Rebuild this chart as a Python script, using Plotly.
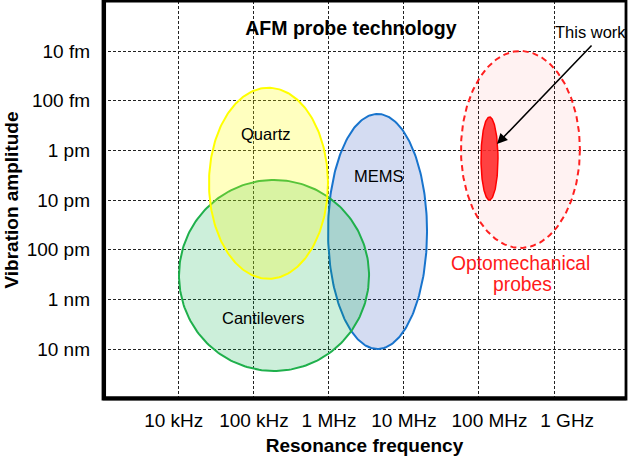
import numpy as np
import plotly.graph_objects as go

# ---- data ----
regions = ["Optomechanical", "MEMS", "Cantilevers", "Quartz", "This work"]
center_freq_hz = [3.57e8, 4.44e6, 1.85e5, 1.56e5, 1.38e8]
center_amp_m = [9.6e-13, 4.3e-11, 3.3e-10, 4.6e-12, 1.46e-12]
half_width_dec = [0.793, 0.66, 1.267, 0.793, 0.113]
half_height_dec = [1.983, 2.366, 1.923, 1.923, 0.836]

x_tick_vals = [1e4, 1e5, 1e6, 1e7, 1e8, 1e9]
x_tick_text = ["10 kHz", "100 kHz", "1 MHz", "10 MHz", "100 MHz", "1 GHz"]
y_tick_vals = [1e-14, 1e-13, 1e-12, 1e-11, 1e-10, 1e-9, 1e-8]
y_tick_text = ["10 fm", "100 fm", "1 pm", "10 pm", "100 pm", "1 nm", "10 nm"]

# style: small horizontal nudges of x tick labels (in spaces; negative = left)
x_label_nudge = [-2, 0, 0, 0, 4, 5]
NB = "\u00a0"
x_tick_disp = [(NB * n + s) if n > 0 else (s + NB * (-n)) for s, n in zip(x_tick_text, x_label_nudge)]

styles = {
    "Optomechanical": dict(fill="rgba(255,0,0,0.05)", line="#ff2020", width=2, dash="6px,4px"),
    "Cantilevers": dict(fill="rgba(0,176,70,0.2)", line="#1fb04c", width=2, dash="solid"),
    "Quartz": dict(fill="rgba(255,255,0,0.25)", line="#ffff00", width=2, dash="solid"),
    "MEMS": dict(fill="rgba(40,80,190,0.2)", line="#1874cd", width=2, dash="solid"),
    "This work": dict(fill="rgba(255,40,40,0.88)", line="#ff0000", width=1.5, dash="solid"),
}

fig = go.Figure()
t = np.linspace(0, 2 * np.pi, 241)
for name, cf, ca, hw, hh in zip(regions, center_freq_hz, center_amp_m, half_width_dec, half_height_dec):
    s = styles[name]
    lx = np.log10(cf) + hw * np.cos(t)
    ly = np.log10(ca) + hh * np.sin(t)
    fig.add_trace(go.Scatter(
        x=10 ** lx, y=10 ** ly, mode="lines", fill="toself",
        fillcolor=s["fill"], line=dict(color=s["line"], width=s["width"], dash=s["dash"]),
        hoverinfo="skip", showlegend=False, name=name))

font = "Liberation Sans, Arial, Helvetica, sans-serif"

labels = [
    ("Quartz", 10 ** 5.16, 10 ** -12.33, "black", 16.5),
    ("MEMS", 10 ** 6.667, 10 ** -11.48, "black", 16.5),
    ("Cantilevers", 10 ** 5.133, 10 ** -8.625, "black", 16.5),
    ("Optomechanical", 10 ** 8.56, 10 ** -9.73, "#ff1a1a", 19.3),
    ("probes", 10 ** 8.575, 10 ** -9.29, "#ff1a1a", 19.3),
    ("This work", 10 ** 9.493, 10 ** -14.38, "black", 16.5),
]
for txt, x, y, c, sz in labels:
    fig.add_annotation(x=np.log10(x), y=np.log10(y), text=txt, showarrow=False,
                       font=dict(family=font, size=sz, color=c))

# arrow to "This work"
fig.add_annotation(x=8.24, y=-12.128, ax=9.52, ay=-14.14, axref="x", ayref="y",
                   text="", showarrow=True, arrowhead=2, arrowsize=1.3, arrowwidth=1.6,
                   arrowcolor="black")

# frame: thin top/right, thick left/bottom
fig.add_shape(type="rect", xref="paper", yref="paper", x0=0, x1=1, y0=0, y1=1,
              line=dict(color="black", width=2.8), layer="above")
fig.add_shape(type="line", xref="paper", yref="paper", x0=0.002, x1=0.002, y0=0, y1=1,
              line=dict(color="black", width=4), layer="above")
fig.add_shape(type="line", xref="paper", yref="paper", x0=0, x1=1, y0=0.002, y1=0.002,
              line=dict(color="black", width=4), layer="above")

fig.update_layout(
    width=630, height=460,
    margin=dict(l=103, r=4, t=1, b=61),
    paper_bgcolor="white", plot_bgcolor="white",
    font=dict(family=font, color="black"),
    title=dict(text="<b>AFM probe technology</b>", x=0.474, xref="paper", xanchor="center",
               y=1 - 28 / 460, yref="container", yanchor="middle",
               font=dict(family=font, size=19.5, color="black")),
)
fig.update_xaxes(type="log", range=[2.987, 9.96], tickvals=x_tick_vals, ticktext=x_tick_disp,
                 tickangle=0, automargin=False,
                 showgrid=True, gridcolor="#222", gridwidth=1, griddash="3px,2px",
                 showline=False, ticks="", ticklabelstandoff=8,
                 tickfont=dict(size=19), zeroline=False,
                 title=dict(text="<b>Resonance frequency</b>", font=dict(size=19), standoff=8))
fig.update_yaxes(type="log", range=[-6.994, -15.007], tickvals=y_tick_vals, ticktext=y_tick_text,
                 automargin=False,
                 showgrid=True, gridcolor="#222", gridwidth=1, griddash="3px,2px",
                 showline=False, ticks="", ticklabelstandoff=12,
                 tickfont=dict(size=19), zeroline=False,
                 title=dict(text="<b>Vibration amplitude</b>", font=dict(size=19), standoff=2))

fig.write_html("out.html", config={"displayModeBar": False},
               post_script="document.body.style.margin='0px';")
